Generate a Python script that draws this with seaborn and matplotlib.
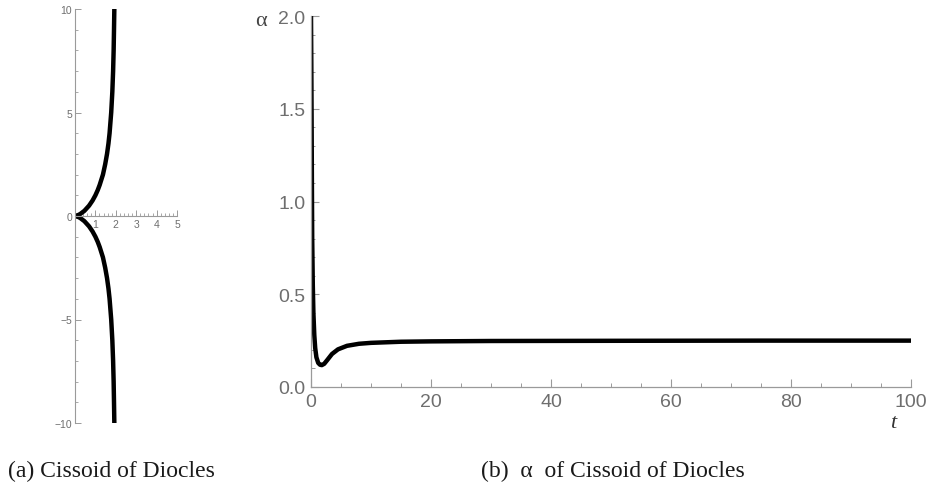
import numpy as np
import pandas as pd
import seaborn as sns
import matplotlib.pyplot as plt
from matplotlib.ticker import MultipleLocator

sns.set_theme(style="white")
plt.rcParams['font.family'] = ['Liberation Sans', 'DejaVu Sans']

# (a) Cissoid of Diocles: upper branch points (x, y); lower branch mirrors y
cis_x = [0.0, 0.166, 0.26, 0.46, 0.69, 0.862, 1.0, 1.114, 1.21, 1.37, 1.48, 1.57, 1.64, 1.695, 1.775, 1.83, 1.868, 1.894, 1.912, 1.928]
cis_y_upper = [0.0, 0.05, 0.1, 0.25, 0.5, 0.75, 1.0, 1.25, 1.5, 2.0, 2.5, 3.0, 3.5, 4.0, 5.0, 6.0, 7.0, 8.0, 9.0, 10.0]
cis_y_lower = [0.0, -0.05, -0.1, -0.25, -0.5, -0.75, -1.0, -1.25, -1.5, -2.0, -2.5, -3.0, -3.5, -4.0, -5.0, -6.0, -7.0, -8.0, -9.0, -10.0]

# (b) alpha of the cissoid vs t
t_vals = [0, 0.05, 0.1, 0.15, 0.2, 0.3, 0.4, 0.55, 0.7, 0.9, 1.2, 1.5, 1.8, 2.2, 2.7, 3.5, 4.5, 6, 8, 10, 15, 20, 30, 50, 75, 100]
alpha_vals = [2.0, 1.75, 1.45, 1.1, 0.8, 0.55, 0.4, 0.28, 0.21, 0.16, 0.13, 0.12, 0.118, 0.125, 0.145, 0.178, 0.203, 0.222, 0.233, 0.238, 0.244, 0.246, 0.248, 0.249, 0.25, 0.25]

left_xticks = [1, 2, 3, 4, 5]
left_yticks = [-10, -5, 0, 5, 10]
right_xticks = [0, 20, 40, 60, 80, 100]
right_yticks = [0.0, 0.5, 1.0, 1.5, 2.0]

W, H = 932, 485
fig = plt.figure(figsize=(W / 100, H / 100), dpi=100)
spine_c = '#9a9a9a'
lab_c = '#6e6e6e'

# ---- left panel
axL = fig.add_axes([75 / W, 1 - 424 / H, 102 / W, 414 / H])
upper = pd.DataFrame({'x': cis_x, 'y': cis_y_upper})
lower = pd.DataFrame({'x': cis_x, 'y': cis_y_lower})
sns.lineplot(data=upper, x='x', y='y', sort=False, estimator=None, color='black', lw=3.2, ax=axL)
sns.lineplot(data=lower, x='x', y='y', sort=False, estimator=None, color='black', lw=3.2, ax=axL)
axL.set_xlim(0, 5)
axL.set_ylim(-10, 10)
axL.set_xlabel('')
axL.set_ylabel('')
for s in ['top', 'right']:
    axL.spines[s].set_visible(False)
axL.spines['bottom'].set_position(('data', 0))
axL.spines['bottom'].set_color(spine_c)
axL.spines['left'].set_color(spine_c)
axL.spines['bottom'].set_linewidth(0.8)
axL.spines['left'].set_linewidth(0.8)
axL.set_xticks(left_xticks)
axL.set_yticks(left_yticks)
axL.set_yticklabels(['\u221210', '\u22125', '0', '5', '10'])
axL.xaxis.set_minor_locator(MultipleLocator(0.2))
axL.yaxis.set_minor_locator(MultipleLocator(1))
axL.tick_params(axis='both', which='major', direction='in', length=4, width=0.7, color=spine_c,
                labelsize=7.5, labelcolor=lab_c, pad=2, bottom=True, left=True)
axL.tick_params(axis='both', which='minor', direction='in', length=2, width=0.6, color=spine_c,
                bottom=True, left=True)
axL.patch.set_alpha(0)

# ---- right panel
axR = fig.add_axes([311 / W, 1 - 388 / H, 600 / W, 371 / H])
dfr = pd.DataFrame({'t': t_vals, 'alpha': alpha_vals})
sns.lineplot(data=dfr, x='t', y='alpha', color='black', lw=3.2, ax=axR)
axR.set_xlim(0, 100)
axR.set_ylim(0, 2.0)
axR.set_xlabel('')
axR.set_ylabel('')
for s in ['top', 'right']:
    axR.spines[s].set_visible(False)
for s in ['bottom', 'left']:
    axR.spines[s].set_color(spine_c)
    axR.spines[s].set_linewidth(0.9)
axR.set_xticks(right_xticks)
axR.set_yticks(right_yticks)
axR.set_yticklabels(['0.0', '0.5', '1.0', '1.5', '2.0'])
axR.xaxis.set_minor_locator(MultipleLocator(5))
axR.yaxis.set_minor_locator(MultipleLocator(0.1))
axR.tick_params(axis='x', which='major', pad=4)
axR.tick_params(axis='y', which='major', pad=4)
axR.tick_params(axis='both', which='major', direction='in', length=6, width=0.8, color=spine_c,
                labelsize=14, labelcolor=lab_c, bottom=True, left=True)
axR.tick_params(axis='both', which='minor', direction='in', length=3, width=0.7, color=spine_c,
                bottom=True, left=True)
axR.patch.set_alpha(0)

fig.text(261 / W, 1 - 21 / H, '\u03b1', fontsize=16, color='#444444', ha='center', va='center',
         family=['Liberation Serif', 'DejaVu Serif'])
fig.text(893 / W, 1 - 424 / H, 't', fontsize=16, color='#333333', ha='center', va='center',
         style='italic', family=['Liberation Serif', 'DejaVu Serif'])

fig.text(8 / W, 1 - 477 / H, '(a) Cissoid of Diocles', fontsize=17, color='#1a1a1a', ha='left', va='baseline',
         family=['Liberation Serif', 'DejaVu Serif'])
fig.text(481 / W, 1 - 477 / H, '(b)  \u03b1  of Cissoid of Diocles', fontsize=17, color='#1a1a1a', ha='left',
         va='baseline', family=['Liberation Serif', 'DejaVu Serif'])

fig.savefig('out.png', dpi=100)
